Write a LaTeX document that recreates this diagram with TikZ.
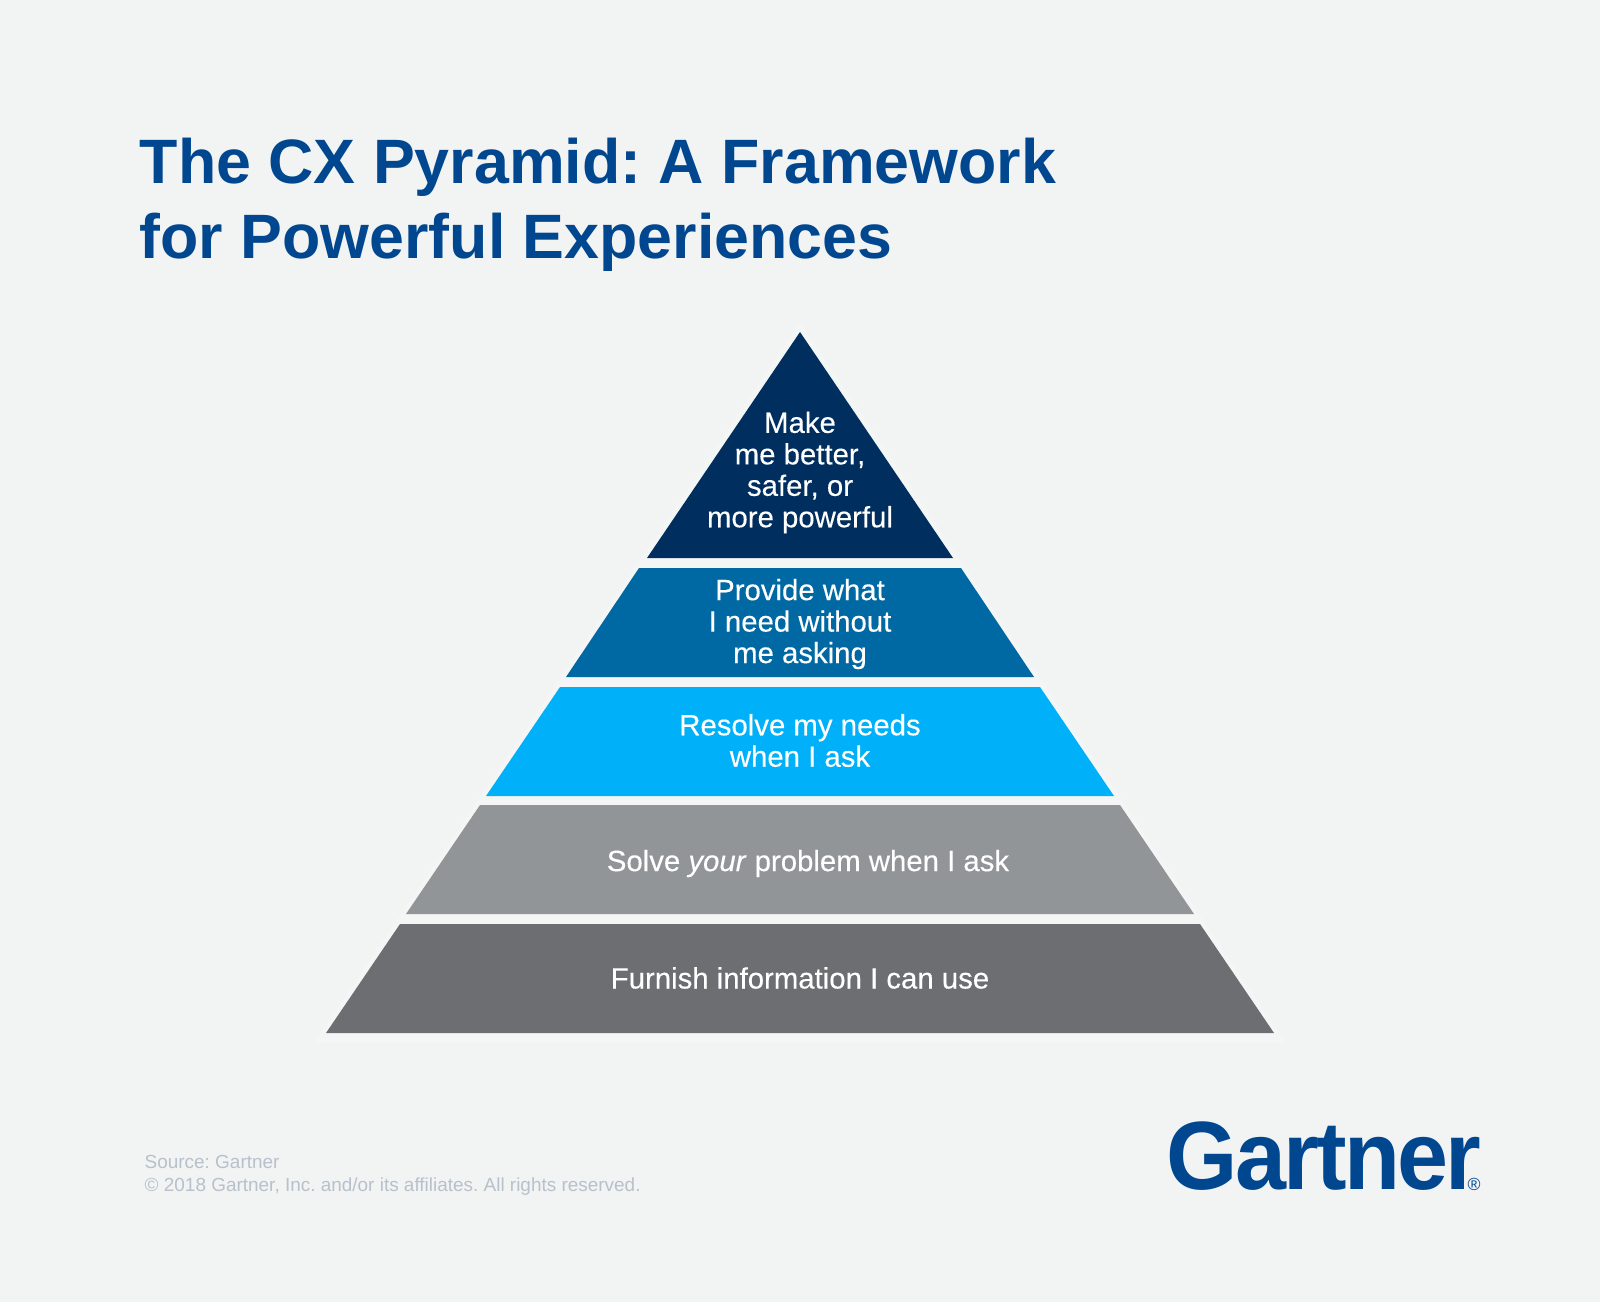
\documentclass[tikz,border=0pt]{standalone}
\usepackage{fontspec}
\setmainfont{Liberation Sans}
\newfontfamily\logofont[LetterSpace=-3]{Liberation Sans}
\newfontfamily\tierfont[FakeBold=0.25,ItalicFeatures={FakeBold=0.25}]{Liberation Sans}
\definecolor{PageGrey}{HTML}{F2F3F3}
\definecolor{HaloGrey}{HTML}{F4F6F5}
\definecolor{TitleBlue}{HTML}{00478F}
\definecolor{TierNavy}{HTML}{002E5F}
\definecolor{TierBlue}{HTML}{0069A4}
\definecolor{TierSky}{HTML}{00B0F8}
\definecolor{TierSilver}{HTML}{929598}
\definecolor{TierSlate}{HTML}{6D6E71}
\definecolor{SourceGrey}{HTML}{B7C1CC}
\newcommand{\bodysize}{\fontsize{8.35}{8.95}\selectfont\tierfont}
\frenchspacing
\begin{document}
\begin{tikzpicture}[x=1cm,y=1cm]
 \tikzset{tierlabel/.style={white,font=\bodysize,align=center,inner sep=0pt}}
 \useasboundingbox (0,0) rectangle (16,-13.02);
 \fill[PageGrey] (0,0) rectangle (16,-13.02);
 % title
 \node[TitleBlue,font=\fontsize{17.84}{21.5}\selectfont\bfseries,align=left,anchor=north west,inner sep=0pt] (title) at (1.39,-1.37)
   {The CX Pyramid: A Framework\\for Powerful Experiences};
 % pyramid halo
 \fill[HaloGrey] (8.00,-3.22)--(12.86,-10.43)--(3.14,-10.43)--cycle;
 % tiers
 \foreach \ytop/\xtop/\ybot/\xbot/\col in {
   5.68/1.61/6.77/2.34/TierBlue,
   6.87/2.40/7.96/3.14/TierSky,
   8.05/3.20/9.14/3.94/TierSilver,
   9.24/4.00/10.33/4.74/TierSlate}{
   \fill[\col] (8-\xtop,-\ytop)--(8+\xtop,-\ytop)--(8+\xbot,-\ybot)--(8-\xbot,-\ybot)--cycle;}
 \fill[TierNavy] (8.00,-3.32)--(9.53,-5.58)--(6.47,-5.58)--cycle;
 % tier labels
 \node[tierlabel] (tierA) at (8,-4.725) {Make\\me better,\\safer, or\\more powerful};
 \node[tierlabel] (tierB) at (8,-6.24) {Provide what\\I need without\\me asking};
 \node[tierlabel] (tierC) at (8,-7.405) {Resolve my needs\\when I ask};
 \node[tierlabel] (tierD) at (8.08,-8.635) {Solve \textit{your} problem when I ask};
 \node[tierlabel] (tierE) at (8,-9.78) {Furnish information I can use};
 % footer
 \node[SourceGrey,font=\fontsize{5.39}{6.5}\selectfont,align=left,anchor=north west,inner sep=0pt] (source) at (1.44,-11.545)
   {Source: Gartner\\\textcopyright{} 2018 Gartner, Inc. and/or its affiliates. All rights reserved.};
 \node[TitleBlue,font=\fontsize{27.6}{27.6}\selectfont\logofont\bfseries,anchor=base west,inner sep=0pt,xscale=0.945,transform shape] (logo) at (11.66,-11.89) {Gartner};
 \node[TitleBlue,font=\fontsize{5}{5}\selectfont,anchor=base west,inner sep=0pt] (regmark) at (14.67,-11.90) {\textregistered};
\end{tikzpicture}
\end{document}
